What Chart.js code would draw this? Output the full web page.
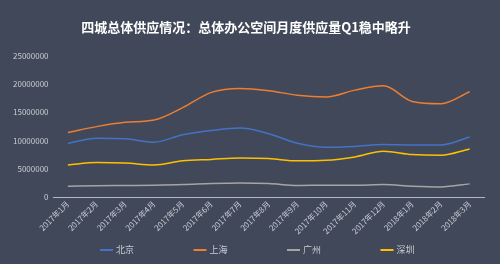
<!DOCTYPE html>
<html>
<head>
<meta charset="utf-8">
<script src="https://cdn.jsdelivr.net/npm/chart.js@4"></script>
<style>
  html, body { margin: 0; padding: 0; background: #404859; }
  #wrap { width: 500px; height: 264px; }
</style>
</head>
<body>
<div id="wrap"><canvas id="supplyChart" width="500" height="264"></canvas></div>
<script>
// ========= Data =========
const months = [
    "2017年1月", "2017年2月", "2017年3月", "2017年4月", "2017年5月",
    "2017年6月", "2017年7月", "2017年8月", "2017年9月", "2017年10月",
    "2017年11月", "2017年12月", "2018年1月", "2018年2月", "2018年3月"
];
const beijing   = [9470000, 10400000, 10300000, 9700000, 11000000, 11750000, 12200000, 11200000, 9500000, 8800000, 8950000, 9300000, 9200000, 9200000, 10600000];
const shanghai  = [11400000, 12450000, 13200000, 13600000, 15800000, 18500000, 19200000, 18800000, 18000000, 17700000, 18900000, 19650000, 16900000, 16500000, 18600000];
const guangzhou = [1930000, 2000000, 2050000, 2100000, 2200000, 2400000, 2500000, 2400000, 2050000, 2100000, 2100000, 2200000, 1930000, 1800000, 2330000];
const shenzhen  = [5670000, 6100000, 6000000, 5670000, 6400000, 6650000, 6900000, 6800000, 6400000, 6500000, 7100000, 8100000, 7500000, 7400000, 8500000];

const fontFamily = "'Noto Sans CJK SC', 'Noto Sans', sans-serif";
const labelColor = "#c9ccd3";

function line(label, data, color) {
    return {
        label: label,
        data: data,
        borderColor: color,
        backgroundColor: color,
        borderWidth: 1.5,
        pointRadius: 0,
        cubicInterpolationMode: "monotone",
        fill: false
    };
}

// legend spread wide under the chart, like the original
const wideLegend = {
    id: "wideLegend",
    afterDraw(chart) {
        const ctx = chart.ctx;
        const sets = chart.data.datasets;
        const pitch = 93.5;
        const startX = 100;
        const y = 250;
        ctx.save();
        ctx.font = "9px " + fontFamily;
        ctx.textBaseline = "middle";
        sets.forEach((ds, i) => {
            const x = startX + i * pitch;
            ctx.strokeStyle = ds.borderColor;
            ctx.lineWidth = 2;
            ctx.beginPath();
            ctx.moveTo(x, y);
            ctx.lineTo(x + 13, y);
            ctx.stroke();
            ctx.fillStyle = labelColor;
            ctx.fillText(ds.label, x + 16, y);
        });
        ctx.restore();
    }
};

new Chart(document.getElementById("supplyChart"), {
    type: "line",
    data: {
        labels: months,
        datasets: [
            line("北京", beijing, "#4472c4"),
            line("上海", shanghai, "#ed7d31"),
            line("广州", guangzhou, "#a5a5a5"),
            line("深圳", shenzhen, "#ffc000")
        ]
    },
    options: {
        responsive: false,
        animation: false,
        layout: { padding: { left: 8, right: 16, top: 0, bottom: 26 } },
        plugins: {
            title: {
                display: true,
                text: "四城总体供应情况：总体办公空间月度供应量Q1稳中略升",
                color: "#ffffff",
                font: { family: fontFamily, size: 13, weight: "bold" },
                padding: { top: 19, bottom: 21 }
            },
            legend: { display: false },
            tooltip: { enabled: false }
        },
        scales: {
            x: {
                offset: true,
                grid: { display: false, drawTicks: false },
                border: { color: "#b4b8c0", width: 1 },
                ticks: {
                    color: labelColor,
                    font: { family: fontFamily, size: 8 },
                    maxRotation: 45,
                    minRotation: 45,
                    padding: 2,
                    autoSkip: false
                }
            },
            y: {
                min: 0,
                max: 25000000,
                grid: { display: false, drawTicks: false },
                border: { display: false },
                ticks: {
                    stepSize: 5000000,
                    color: labelColor,
                    font: { family: fontFamily, size: 8 },
                    padding: 5,
                    callback: v => String(v)
                }
            }
        }
    },
    plugins: [wideLegend]
});
</script>
</body>
</html>
